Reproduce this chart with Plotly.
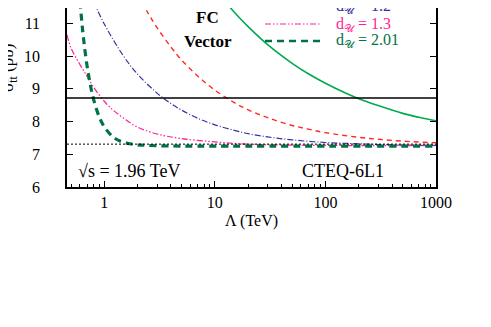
import numpy as np
import plotly.graph_objects as go

# ## Data (Lambda in TeV, sigma_tt in pb)

lam_101 = [12, 15, 20, 30, 50, 70, 100, 150, 200, 300, 500, 700, 1000]
sig_101 = [11.73, 11.34, 10.90, 10.35, 9.78, 9.46, 9.17, 8.88, 8.70, 8.49, 8.25, 8.13, 8.02]

lam_11 = [2, 2.5, 3, 4, 5, 7, 10, 15, 20, 30, 50, 70, 100, 200, 300, 500, 1000]
sig_11 = [11.90, 11.30, 10.87, 10.28, 9.88, 9.39, 8.96, 8.58, 8.36, 8.12, 7.88, 7.77, 7.66, 7.52, 7.46, 7.40, 7.35]

lam_12 = [0.8, 1, 1.5, 2, 3, 4, 5, 7, 10, 15, 20, 30, 50, 100, 200, 500, 1000]
sig_12 = [11.67, 10.98, 9.99, 9.45, 8.87, 8.55, 8.35, 8.10, 7.90, 7.73, 7.63, 7.53, 7.44, 7.36, 7.32, 7.28, 7.27]

lam_13 = [0.46, 0.5, 0.6, 0.7, 0.8, 1.0, 1.2, 1.5, 2, 3, 5, 10, 20, 50, 100, 1000]
sig_13 = [10.65, 10.25, 9.75, 9.38, 9.05, 8.62, 8.35, 8.10, 7.83, 7.62, 7.48, 7.38, 7.31, 7.28, 7.27, 7.26]

lam_201 = [0.58, 0.62, 0.65, 0.7, 0.75, 0.8, 0.9, 1.0, 1.2, 1.4, 1.7, 2, 3, 10, 1000]
sig_201 = [12.40, 11.21, 10.52, 9.68, 9.10, 8.68, 8.14, 7.84, 7.53, 7.40, 7.32, 7.29, 7.26, 7.25, 7.25]

sigma_exp = 8.72   # solid line
sigma_sm = 7.31    # dotted line

FONT = "Liberation Serif, Times New Roman, serif"
U = "\U0001D4B0"

series = [
    (lam_101, sig_101, "1.01", "rgb(0,170,80)", 1.6, "solid"),
    (lam_11, sig_11, "1.1", "rgb(255,40,40)", 1.4, "5px,4px"),
    (lam_12, sig_12, "1.2", "rgb(50,50,160)", 1.2, "6px,2px,1px,2px"),
    (lam_13, sig_13, "1.3", "rgb(255,30,150)", 1.2, "6px,2px,1.5px,2px,1.5px,2px"),
    (lam_201, sig_201, "2.01", "rgb(0,115,70)", 3.2, "7px,5px"),
]

# plot area in pixels: left 59, width 369, top 0, height 179
def px(x):
    return (x - 59) / 369.0

def py(y):
    return (179 - y) / 179.0

fig = go.Figure()

# legend drawn by hand (top part runs off the page like in the original)
leg_y = [-35, -18, -1, 16, 33]

for i, (lam, sig, d, col, w, dash) in enumerate(series):
    fig.add_trace(go.Scatter(
        x=lam, y=sig, mode="lines", line_shape="spline",
        line=dict(color=col, width=w, dash=dash), showlegend=False,
    ))
    fig.add_shape(type="line", xref="paper", yref="paper",
                  x0=px(257), x1=px(312), y0=py(leg_y[i]), y1=py(leg_y[i]),
                  line=dict(color=col, width=min(w, 2.5), dash=dash))
    fig.add_annotation(xref="paper", yref="paper", x=px(326), y=py(leg_y[i]),
                       xanchor="left", yanchor="middle", showarrow=False,
                       text="d<sub>%s</sub> = %s" % (U, d),
                       font=dict(size=16, family=FONT, color=col))

fig.add_hline(y=sigma_exp, line=dict(color="black", width=1.5))
fig.add_hline(y=sigma_sm, line=dict(color="black", width=1, dash="2px,2px"))

fig.add_annotation(x=np.log10(8.5), y=11.17, text="<b>FC</b>", showarrow=False,
                   font=dict(size=17, family=FONT, color="black"))
fig.add_annotation(x=np.log10(8.6), y=10.46, text="<b>Vector</b>", showarrow=False,
                   font=dict(size=17, family=FONT, color="black"))
fig.add_annotation(x=np.log10(0.56), y=6.49, text="\u221as = 1.96 TeV", showarrow=False,
                   xanchor="left", font=dict(size=18, family=FONT, color="black"))
fig.add_annotation(x=np.log10(145), y=6.49, text="CTEQ-6L1", showarrow=False,
                   font=dict(size=18, family=FONT, color="black"))
fig.add_annotation(xref="paper", yref="paper", x=px(1), y=py(60),
                   xanchor="center", yanchor="middle",
                   text="\u03c3<sub>t\u0305t</sub> (pb)", textangle=-90, showarrow=False,
                   font=dict(size=17, family=FONT, color="black"))

minor_vals = [m * 10.0 ** e for e in range(-1, 3) for m in range(2, 10)]

fig.update_xaxes(
    type="log", range=[np.log10(0.46), 3],
    tickvals=[1, 10, 100, 1000], ticktext=["1", "10", "100", "1000"],
    ticks="inside", ticklen=6, tickcolor="black", showline=True, linecolor="black",
    linewidth=1.5, mirror=False, showgrid=False, zeroline=False,
    minor=dict(ticks="inside", ticklen=3, tickcolor="black", showgrid=False, tickvals=minor_vals),
    tickfont=dict(size=16, family=FONT, color="black"),
    title=dict(text="\u039b (TeV)", font=dict(size=16, family=FONT, color="black"), standoff=5),
)
fig.update_yaxes(
    range=[6, 11.47], dtick=1, ticks="inside", ticklen=6, tickcolor="black",
    showline=True, linecolor="black", linewidth=1.5, mirror="ticks",
    showgrid=False, zeroline=False, ticklabelstandoff=22,
    tickfont=dict(size=16, family=FONT, color="black"),
)

fig.update_layout(
    width=491, height=327,
    margin=dict(l=59, r=63, t=0, b=148, autoexpand=False),
    plot_bgcolor="white", paper_bgcolor="white",
    showlegend=False,
)

fig.write_html("out.html")
